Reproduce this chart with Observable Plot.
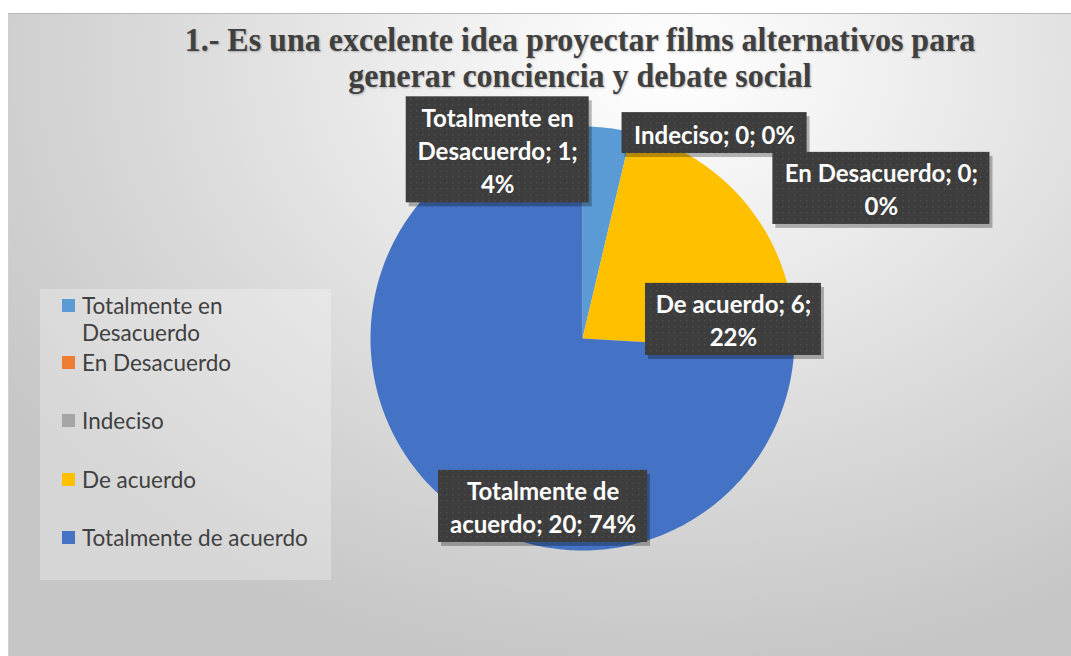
<!DOCTYPE html>
<html><head><meta charset="utf-8">
<script src="https://cdn.jsdelivr.net/npm/d3@7"></script>
<script src="https://cdn.jsdelivr.net/npm/@observablehq/plot@0.6"></script>
<style>
html,body{margin:0;padding:0;background:#fff;}
#wrap{position:relative;width:1071px;height:656px;overflow:hidden;}
#frame{position:absolute;left:8px;top:13px;width:1063px;height:643px;box-sizing:border-box;
  border-top:1px solid #b8b8b8;border-left:1px solid #cfcfcf;
  background:radial-gradient(ellipse 75% 95% at 62% 8%, #ffffff 0%, #f3f3f3 22%, #dcdcdc 60%, #c6c6c6 100%);}
#title{position:absolute;left:0;top:22px;width:1160px;text-align:center;font-family:"Liberation Serif","Times New Roman",serif;
  font-weight:bold;font-size:32px;line-height:33px;color:#404040;text-shadow:1px 1px 2px rgba(0,0,0,0.25);
  transform:scaleY(1.08);transform-origin:50% 0;}
#legend{position:absolute;left:40px;top:289px;width:291px;height:291px;background:rgba(255,255,255,0.28);}
.li{position:absolute;left:22px;font-family:Lato,"Open Sans",sans-serif;font-size:22.5px;line-height:27px;color:#404040;width:268px;}
.sw{position:absolute;left:0;top:7px;width:13px;height:13px;}
.lt{margin-left:20px;}
#chart{position:absolute;left:0;top:0;}
</style></head>
<body><div id="wrap"><div id="frame"></div><div id="title"></div><div id="legend"></div><div id="chart"></div></div>
<script>
const titleLines = ["1.- Es una excelente idea proyectar films alternativos para", "generar conciencia y debate social"];
const categories = ["Totalmente en Desacuerdo", "En Desacuerdo", "Indeciso", "De acuerdo", "Totalmente de acuerdo"];
const values = [1, 0, 0, 6, 20];
const colors = ["#5B9BD5", "#ED7D31", "#A5A5A5", "#FFC000", "#4472C4"];
// label placement (pie radius units, relative to centre) — annotations only
const labelU = [-0.40, 1.41, 0.623, 0.712, -0.186];
const labelV = [0.89, 0.708, 0.969, 0.09, -0.792];
const labelW = [0.863, 1.024, 0.873, 0.83, 0.986];
const labelH = [0.50, 0.34, 0.193, 0.34, 0.34];
const labelWrap = [15, 18, 20, 15, 17];

const CX = 582, CY = 338, R = 212;

document.getElementById("title").innerHTML = titleLines.join("<br>");

// legend
const legendTops = [3, 60, 118, 177, 235];
const legend = document.getElementById("legend");
categories.forEach((c, i) => {
  const d = document.createElement("div");
  d.className = "li";
  d.style.top = legendTops[i] + "px";
  const label = c === "Totalmente en Desacuerdo" ? "Totalmente en<br>Desacuerdo" : c;
  d.innerHTML = `<span class="sw" style="background:${colors[i]}"></span><div class="lt">${label}</div>`;
  legend.appendChild(d);
});

const total = d3.sum(values);
const arcs = d3.pie().sort(null).value(d => d)(values);
const slicePts = [];
arcs.forEach((a, i) => {
  const span = a.endAngle - a.startAngle;
  if (span <= 0) return;
  const n = Math.max(2, Math.ceil(span / (Math.PI / 180)));
  slicePts.push({cat: categories[i], x: 0, y: 0});
  for (let k = 0; k <= n; k++) {
    const t = a.startAngle + span * k / n;
    slicePts.push({cat: categories[i], x: Math.sin(t), y: Math.cos(t)});
  }
  slicePts.push({cat: categories[i], x: 0, y: 0});
});

function wrap(text, maxChars) {
  const words = text.split(" ");
  const lines = [];
  let cur = "";
  for (const w of words) {
    const cand = cur ? cur + " " + w : w;
    if (cand.length > maxChars && cur) { lines.push(cur); cur = w; } else cur = cand;
  }
  if (cur) lines.push(cur);
  return lines.join("\n");
}

const labels = categories.map((c, i) => ({
  cat: c,
  text: wrap(`${c}; ${values[i]}; ${Math.round(values[i] / total * 100)}%`, labelWrap[i]),
  u: labelU[i], v: labelV[i], w: labelW[i], h: labelH[i]
}));

const box = {x1: d => d.u - d.w / 2, x2: d => d.u + d.w / 2, y1: d => d.v - d.h / 2, y2: d => d.v + d.h / 2};
const plot = Plot.plot({
  width: 1071, height: 656,
  margin: 0,
  x: {domain: [-1, 1], range: [CX - R, CX + R], axis: null},
  y: {domain: [-1, 1], range: [CY + R, CY - R], axis: null},
  color: {domain: categories, range: colors},
  style: {background: "transparent", overflow: "visible"},
  marks: [
    Plot.line(slicePts, {x: "x", y: "y", z: "cat", fill: "cat", stroke: null, curve: "linear"}),
    Plot.rect(labels, {...box, fill: "#000", fillOpacity: 0.28, dx: 3, dy: 4}),
    Plot.rect(labels, {...box, fill: "url(#dots)"}),
    Plot.text(labels, {x: "u", y: "v", text: "text", fill: "white", fontSize: 24, fontWeight: "bold",
      fontFamily: "Lato, sans-serif", lineHeight: 1.375})
  ]
});
const ns = "http://www.w3.org/2000/svg";
const defs = document.createElementNS(ns, "defs");
defs.innerHTML = `<pattern id="dots" width="6" height="6" patternUnits="userSpaceOnUse">
  <rect width="6" height="6" fill="#3d3d3d"></rect><rect x="2" y="2" width="1.5" height="1.5" fill="#4d4d4d"></rect></pattern>`;
plot.insertBefore(defs, plot.firstChild);
document.getElementById("chart").appendChild(plot);
</script></body></html>
